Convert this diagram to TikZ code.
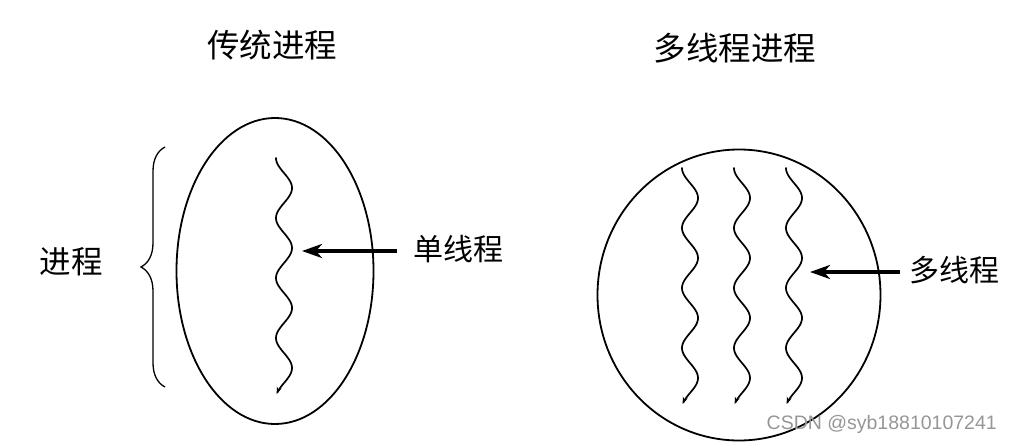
\documentclass[tikz,border=0pt]{standalone}
\usepackage{fontspec}
\newfontfamily\cjk{Noto Sans CJK SC}
\newfontfamily\wmfont{Liberation Sans}
\usetikzlibrary{shapes.geometric}
\usetikzlibrary{positioning}
\usetikzlibrary{arrows.meta}
\usetikzlibrary{decorations.pathreplacing}
\definecolor{wmgray}{RGB}{150,150,150}

\tikzset{
  shell/.style={draw, ellipse, line width=1.8pt, inner sep=0pt},
  thread/.style={line width=1.7pt, line cap=round, -{Stealth[length=7pt,width=5pt]}},
  pointer/.style={line width=3.6pt, -{Stealth[length=20pt,width=14pt,inset=6pt]}},
  cjktitle/.style={font=\cjk\fontsize{32.5}{36}\selectfont, inner sep=0pt},
  cjklabel/.style={font=\cjk\fontsize{30}{33}\selectfont, inner sep=0pt},
}

\begin{document}
\begin{tikzpicture}[x=1pt, y=-1pt]

%---------------------------------------
% Shared things
%---------------------------------------
\pgfmathdeclarefunction{wave}{1}{\pgfmathparse{-8*cos(6*#1)}}  % one thread
\def\Tlen{236}

\useasboundingbox (0,0) rectangle (1012,444);

%====================================================
% LEFT: traditional process
%====================================================
\node[cjktitle] (tradtitle) at (272,45) {传统进程};

\node[shell, minimum width=197, minimum height=306] (trad) at (275,271) {};

% the single thread
\draw[thread, domain=0:\Tlen, samples=160]
      plot ({284 + wave(\x)}, {158 + \x});

% brace and its label
\coordinate (btop) at (165,147);
\coordinate (bbot) at (165,387);
\draw[line width=1.3pt, decorate, decoration={brace, amplitude=24pt}]
      (bbot) -- (btop);
\node[cjklabel, font=\cjk\fontsize{31.5}{34}\selectfont] (proc) at (71,262) {进程};

% pointer to the thread
\coordinate (stip) at (302,251);
\node[cjklabel, anchor=west, inner xsep=16pt] (single) at (397,249) {单线程};
\draw[pointer] (single.west |- stip) -- (stip);

%====================================================
% RIGHT: multithreaded process
%====================================================
\node[cjktitle] (multititle) at (735,48) {多线程进程};

\node[shell, minimum width=283, minimum height=291] (multi) at (739,295) {};

% three threads
\foreach \cx in {690,742,794}
  \draw[thread, domain=0:\Tlen, samples=160]
        plot ({\cx + wave(\x)}, {168 + \x});

% pointer to the threads
\coordinate (mtip) at (810,272);
\node[cjklabel, anchor=west, inner xsep=9pt] (many) at (900,270) {多线程};
\draw[pointer] (many.west |- mtip) -- (mtip);

% watermark
\node[font=\wmfont\fontsize{19.5}{22}\selectfont, text=wmgray, anchor=east, inner sep=0pt]
      (mark) at (997,424) {CSDN @syb18810107241};

\end{tikzpicture}
\end{document}
